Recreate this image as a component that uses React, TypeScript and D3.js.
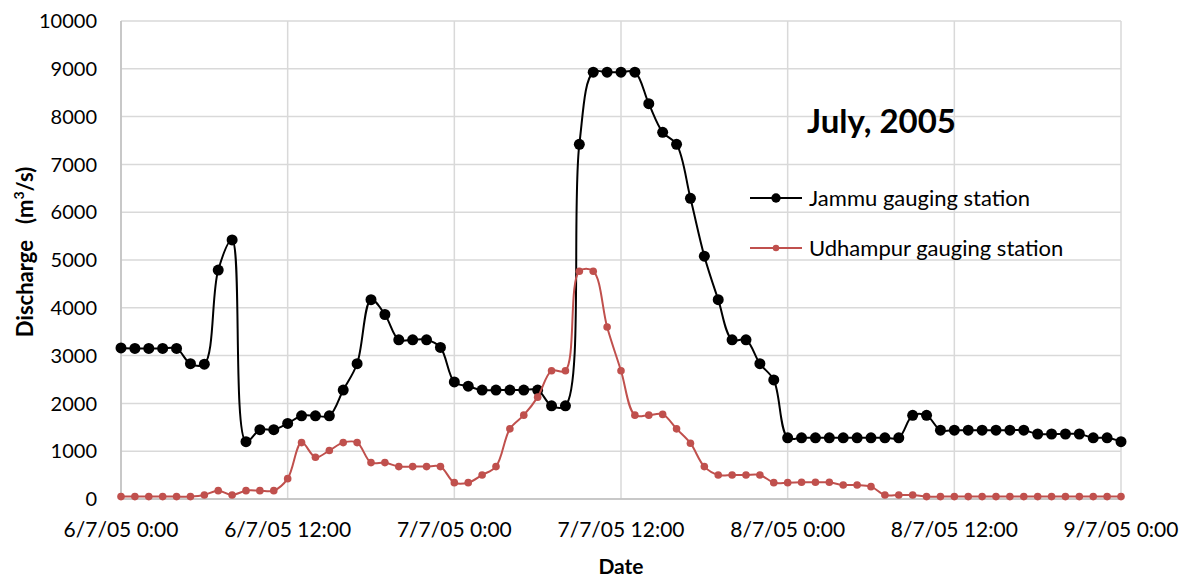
import React from "react";
import * as d3 from "d3";

// Hourly discharge readings (m³/s), 6 July 2005 00:00 to 9 July 2005 00:00
const startTime = new Date(2005, 6, 6, 0, 0);
const jammu = [
  3160, 3150, 3150, 3150, 3150, 2830, 2820, 4790, 5420, 1200,
  1450, 1450, 1580, 1740, 1740, 1740, 2280, 2830, 4170, 3860,
  3330, 3330, 3330, 3170, 2450, 2360, 2280, 2280, 2280, 2280,
  2280, 1950, 1950, 7420, 8930, 8930, 8930, 8930, 8270, 7670,
  7420, 6290, 5080, 4170, 3330, 3330, 2830, 2490, 1280, 1280,
  1280, 1280, 1280, 1280, 1280, 1280, 1280, 1750, 1750, 1440,
  1440, 1440, 1440, 1440, 1440, 1440, 1360, 1360, 1360, 1360,
  1280, 1280, 1200,
];
const udhampur = [
  50, 50, 50, 50, 50, 50, 84, 175, 84, 175,
  175, 175, 426, 1180, 874, 1014, 1180, 1180, 762, 762,
  678, 678, 678, 678, 342, 342, 503, 678, 1468, 1754,
  2131, 2683, 2683, 4766, 4766, 3599, 2683, 1754, 1754, 1770,
  1468, 1167, 678, 503, 503, 503, 503, 342, 342, 349,
  349, 349, 293, 293, 258, 84, 84, 84, 50, 50,
  50, 50, 50, 50, 50, 50, 50, 50, 50, 50,
  50, 50, 50,
];
const yTicks = [0, 1000, 2000, 3000, 4000, 5000, 6000, 7000, 8000, 9000, 10000];
const seriesNames = ["Jammu gauging station", "Udhampur gauging station"];
const titleText = "July, 2005";

const W = 1191;
const H = 581;
const margin = { left: 121, right: 70, top: 21, bottom: 82 };
const font = "Lato, 'Open Sans', sans-serif";

export default function App() {
  const timeAt = (i: number) => d3.timeHour.offset(startTime, i);
  const endTime = timeAt(jammu.length - 1);

  const x = d3
    .scaleTime()
    .domain([startTime, endTime])
    .range([margin.left, W - margin.right]);
  const y = d3
    .scaleLinear()
    .domain([0, 10000])
    .range([H - margin.bottom, margin.top]);

  const xTicks = d3.timeHour.every(12)!.range(startTime, d3.timeHour.offset(endTime, 1));
  const fmt = d3.timeFormat("%-d/%-m/%y %-H:%M");

  const line = d3
    .line<number>()
    .x((_, i) => x(timeAt(i)))
    .y((d) => y(d))
    .curve(d3.curveCatmullRom.alpha(0.5));

  const series = [
    { name: seriesNames[0], values: jammu, color: "#000000", r: 5.5, width: 2 },
    { name: seriesNames[1], values: udhampur, color: "#c0504d", r: 3.8, width: 2 },
  ];

  const [x0, x1] = x.range();
  const [yb, yt] = y.range();

  return (
    <svg
      width={W}
      height={H}
      style={{ position: "absolute", left: 0, top: 0, background: "#fff" }}
      fontFamily={font}
    >
      {/* horizontal grid */}
      {yTicks.map((t) => (
        <line key={"gy" + t} x1={x0} x2={x1} y1={y(t)} y2={y(t)} stroke="#d9d9d9" strokeWidth={1.5} />
      ))}
      {/* vertical grid */}
      {xTicks.map((t) => (
        <line
          key={"gx" + +t}
          x1={x(t)}
          x2={x(t)}
          y1={yt}
          y2={yb}
          stroke="#d9d9d9"
          strokeWidth={1.5}
        />
      ))}
      {/* axes */}
      <line x1={x0} x2={x1} y1={yb} y2={yb} stroke="#bfbfbf" strokeWidth={1.5} />
      <line x1={x0} x2={x0} y1={yt} y2={yb} stroke="#bfbfbf" strokeWidth={1.5} />

      {yTicks.map((t) => (
        <text key={"ty" + t} x={x0 - 24} y={y(t)} dy="0.36em" textAnchor="end" fontSize={20} fill="#000">
          {t}
        </text>
      ))}
      {xTicks.map((t) => (
        <text key={"tx" + +t} x={x(t)} y={yb + 38} textAnchor="middle" fontSize={21} fill="#000">
          {fmt(t)}
        </text>
      ))}

      {/* series */}
      {series.map((s) => (
        <g key={s.name}>
          <path d={line(s.values) ?? ""} fill="none" stroke={s.color} strokeWidth={s.width} />
          {s.values.map((v, i) => (
            <circle key={i} cx={x(timeAt(i))} cy={y(v)} r={s.r} fill={s.color} />
          ))}
        </g>
      ))}

      {/* axis titles */}
      <text
        transform={`translate(33, 252) rotate(-90)`}
        textAnchor="middle"
        fontSize={22}
        fontWeight="bold"
        fill="#000"
      >
        Discharge{"\u00a0\u00a0\u00a0"}(m<tspan dy="-9" fontSize={14}>3</tspan>
        <tspan dy="9">/s)</tspan>
      </text>
      <text x={(x0 + x1) / 2} y={H - 7} textAnchor="middle" fontSize={21} fontWeight="bold" fill="#000">
        Date
      </text>

      {/* title */}
      <text x={807} y={133} fontSize={33} fontWeight="bold" fill="#000">
        {titleText}
      </text>

      {/* legend */}
      {series.map((s, i) => {
        const ly = 198 + i * 50;
        return (
          <g key={"lg" + i}>
            <line x1={750} x2={802} y1={ly} y2={ly} stroke={s.color} strokeWidth={s.width} />
            <circle cx={776} cy={ly} r={s.r * 0.85} fill={s.color} />
            <text x={809} y={ly} dy="0.36em" fontSize={22} fill="#000">
              {s.name}
            </text>
          </g>
        );
      })}
    </svg>
  );
}
